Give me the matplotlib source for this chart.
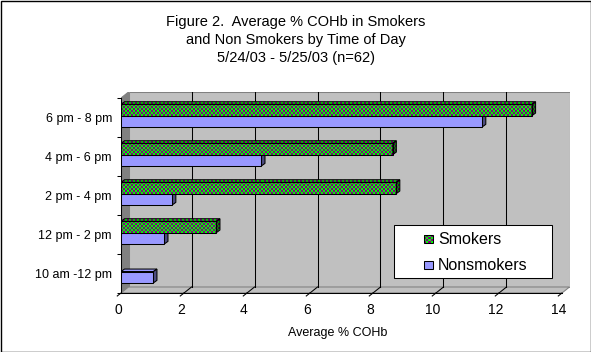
import numpy as np
import matplotlib.pyplot as plt
from matplotlib.patches import Polygon, Rectangle
from matplotlib.colors import ListedColormap
from matplotlib.transforms import ScaledTranslation

# values
categories = ['10 am -12 pm', '12 pm - 2 pm', '2 pm - 4 pm', '4 pm - 6 pm', '6 pm - 8 pm']
smokers = [0, 3.03, 8.74, 8.63, 13.05]
nonsmokers = [1.03, 1.38, 1.63, 4.46, 11.47]
x_ticks = [0, 2, 4, 6, 8, 10, 12, 14]

plt.rcParams['font.family'] = ['Liberation Sans', 'DejaVu Sans']

W, H = 591, 352
PX_X = 31.5   # pixels per x unit
PX_Y = 39.0   # pixels per category
DX, DY = 7.5 / PX_X, 6 / PX_Y       # depth of the walls
BDX, BDY = 3.5 / PX_X, 2.5 / PX_Y   # depth of the bars
BAR_H = 0.29
OFF = 0.05

green = ['#00ff00', '#800080']
green_dark = ['#009900', '#400040']

fig = plt.figure(figsize=(W / 100, H / 100), dpi=100)
ax = fig.add_axes([121 / W, 59 / H, 449 / W, 201 / H])
xmax = 14
ymin, ymax = -0.5, len(categories) - 0.5


def checker(ax, patch, extent, colors, z):
    x0, x1, y0, y1 = extent
    ncol = max(1, int(round((x1 - x0) * PX_X / 2)))
    nrow = max(1, int(round((y1 - y0) * PX_Y / 2)))
    grid = np.indices((nrow, ncol)).sum(axis=0) % 2
    im = ax.imshow(grid, cmap=ListedColormap(colors), vmin=0, vmax=1, extent=extent,
                   origin='lower', aspect='auto', interpolation='nearest', zorder=z)
    im.set_clip_path(patch)


def bar3d(ax, y0, w, z, front, top, side, pattern=False):
    y1 = y0 + BAR_H
    top_v = [(0, y1), (BDX, y1 + BDY), (w + BDX, y1 + BDY), (w, y1)]
    side_v = [(w, y0), (w, y1), (w + BDX, y1 + BDY), (w + BDX, y0 + BDY)]
    if pattern:
        f = ax.add_patch(Rectangle((0, y0), w, BAR_H, fc='none', ec='k', lw=0.75, zorder=z + 0.1))
        t = ax.add_patch(Polygon(top_v, fc='none', ec='k', lw=0.75, zorder=z + 0.1))
        s = ax.add_patch(Polygon(side_v, fc='none', ec='k', lw=0.75, zorder=z + 0.1))
        checker(ax, f, (0, w, y0, y1), front, z)
        checker(ax, t, (0, w + BDX, y1, y1 + BDY), front, z)
        checker(ax, s, (w, w + BDX, y0, y1 + BDY), side, z)
    else:
        ax.add_patch(Polygon(top_v, fc=top, ec='k', lw=0.75, zorder=z))
        ax.add_patch(Polygon(side_v, fc=side, ec='k', lw=0.75, zorder=z))
        ax.add_patch(Rectangle((0, y0), w, BAR_H, fc=front, ec='k', lw=0.75, zorder=z))


# walls and floor
ax.add_patch(Polygon([(0, ymin), (DX, ymin + DY), (DX, ymax + DY), (0, ymax)],
                     fc='#808080', ec='#808080', lw=0.75, zorder=0))
ax.add_patch(Rectangle((DX, ymin + DY), xmax, ymax - ymin, fc='#c0c0c0', ec='#808080',
                       lw=0.75, zorder=0))
ax.add_patch(Polygon([(0, ymin), (xmax, ymin), (xmax + DX, ymin + DY), (DX, ymin + DY)],
                     fc='#c0c0c0', ec='#808080', lw=0.75, zorder=0.5))

# gridlines on the back wall and floor
for t in x_ticks[1:-1]:
    ax.plot([t + DX, t + DX], [ymin + DY, ymax + DY], color='k', lw=0.75, zorder=1)
    ax.plot([t, t + DX], [ymin, ymin + DY], color='k', lw=0.75, zorder=1)

# front axis lines and slanted x ticks
ax.plot([0, 0], [ymin, ymax], color='k', lw=0.75, zorder=2, clip_on=False)
ax.plot([0, xmax], [ymin, ymin], color='k', lw=0.75, zorder=2, clip_on=False)
for t in x_ticks:
    ax.plot([t, t - DX * 0.5], [ymin, ymin - DY * 0.5], color='k', lw=0.75,
            zorder=2, clip_on=False)

# bars, back rows first
pos = np.arange(len(categories))
for i in pos[::-1]:
    if nonsmokers[i] > 0:
        bar3d(ax, i + OFF - BAR_H, nonsmokers[i], 3, '#9999ff', '#9999ff', '#4d4d80')
    if smokers[i] > 0:
        bar3d(ax, i + OFF, smokers[i], 4, green, None, green_dark, pattern=True)

ax.set_xlim(0, 449 / PX_X)
ax.set_ylim(ymin, ymin + 201 / PX_Y)
for sp in ax.spines.values():
    sp.set_visible(False)

ax.set_yticks(pos)
ax.set_yticklabels(categories, fontsize=9)
ax.set_yticks(np.arange(ymin, ymax + 0.01, 1), minor=True)
ax.tick_params(axis='y', which='major', length=0, pad=6.5)
ax.tick_params(axis='y', which='minor', length=3, width=0.75, direction='out')

ax.set_xticks(x_ticks)
ax.set_xticklabels([str(t) for t in x_ticks], fontsize=10)
ax.tick_params(axis='x', length=0, pad=7)
for lbl in ax.get_xticklabels():
    lbl.set_transform(lbl.get_transform() + ScaledTranslation(-3 / 100, 0, fig.dpi_scale_trans))

ax.set_xlabel('Average % COHb', fontsize=9)
ax.xaxis.set_label_coords((338 - 121) / 449, -40 / 201)
ax.xaxis.label.set_va('center')

fig.suptitle('Figure 2.  Average % COHb in Smokers\nand Non Smokers by Time of Day\n'
             '5/24/03 - 5/25/03 (n=62)', x=296 / W, y=1 - 40 / H, va='center',
             fontsize=10.5, linespacing=1.33)

# legend box
lax = fig.add_axes([394 / W, 1 - 278 / H, 158 / W, 53 / H])
lax.set_xlim(0, 158)
lax.set_ylim(53, 0)
lax.axis('off')
lax.add_patch(Rectangle((0, 0), 158, 53, fc='white', ec='k', lw=0.75, clip_on=False))
sw = lax.add_patch(Rectangle((30, 10), 9, 8, fc='none', ec='k', lw=0.75, zorder=3))
grid = np.indices((4, 4)).sum(axis=0) % 2
im = lax.imshow(grid, cmap=ListedColormap(green), extent=(30, 39, 18, 10),
                aspect='auto', interpolation='nearest', zorder=2)
im.set_clip_path(sw)
lax.add_patch(Rectangle((30, 36), 9, 8, fc='#9999ff', ec='k', lw=0.75, zorder=3))
lax.set_xlim(0, 158)
lax.set_ylim(53, 0)
lax.text(44, 14, 'Smokers', fontsize=11.5, va='center')
lax.text(44, 40, 'Nonsmokers', fontsize=11.5, va='center')

fig.add_artist(Rectangle((0.5 / W, 0.5 / H), 1 - 1 / W, 1 - 1 / H, transform=fig.transFigure,
                         fc='none', ec='k', lw=1))

fig.savefig('out.png', dpi=100)
